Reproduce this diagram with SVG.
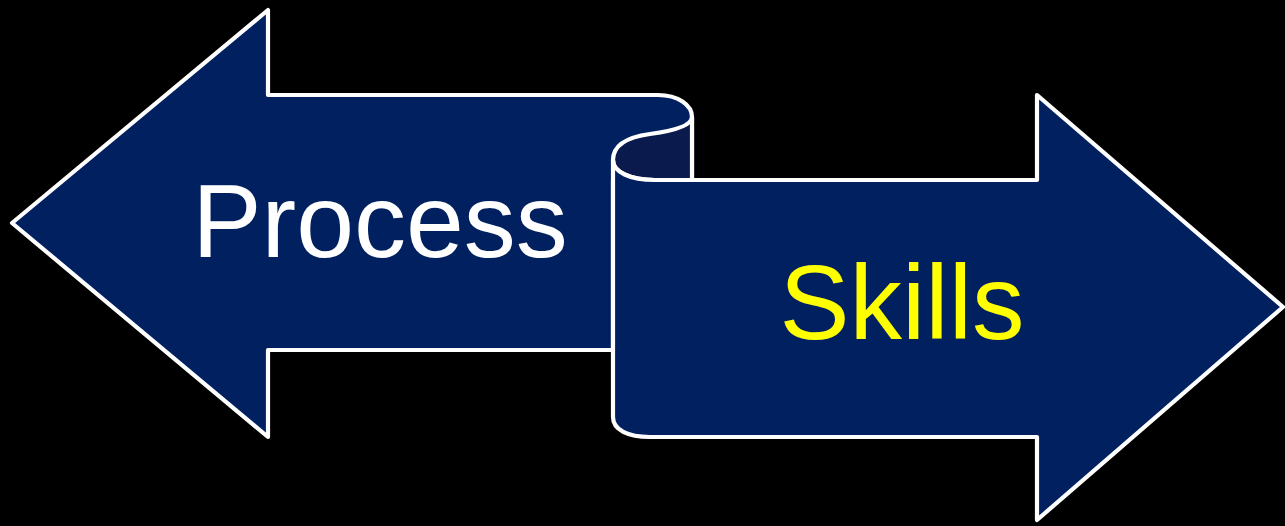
<svg xmlns="http://www.w3.org/2000/svg" width="1285" height="526" viewBox="0 0 1285 526">
<style>
.shape{fill:#002060;stroke:#fff;stroke-width:4.2;stroke-linejoin:round}
.back{fill:#0a1a4c;stroke:#fff;stroke-width:4.2;stroke-linejoin:round}
.lbl{font-family:"Liberation Sans",Arial,sans-serif;font-size:104px;text-anchor:middle}
</style>
<rect x="0" y="0" width="1285" height="526" fill="#000"/>
<g id="process">
<path class="shape" d="M268,95 L658,95 C678,95 692,105 692,117 L692,180 L613,180 L613,350 L268,350 L268,437 L12,223 L268,10 Z"/>
<text class="lbl" x="380" y="257" fill="#fff">Process</text>
</g>
<g id="curl">
<path class="back" d="M692,117 C692,126 672,131 650,134 C628,137 613,145 613,160 C613,172 630,180 655,180 L692,180 Z"/>
</g>
<g id="skills">
<path class="shape" d="M613,160 C613,172 630,180 655,180 L1037,180 L1037,95 L1283,307 L1037,520 L1037,437 L650,437 C628,437 613,430 613,417 Z"/>
<text class="lbl" x="902" y="339" fill="#ffff00" style="font-size:105px">Skills</text>
</g>
<g id="connectors"></g>
</svg>
